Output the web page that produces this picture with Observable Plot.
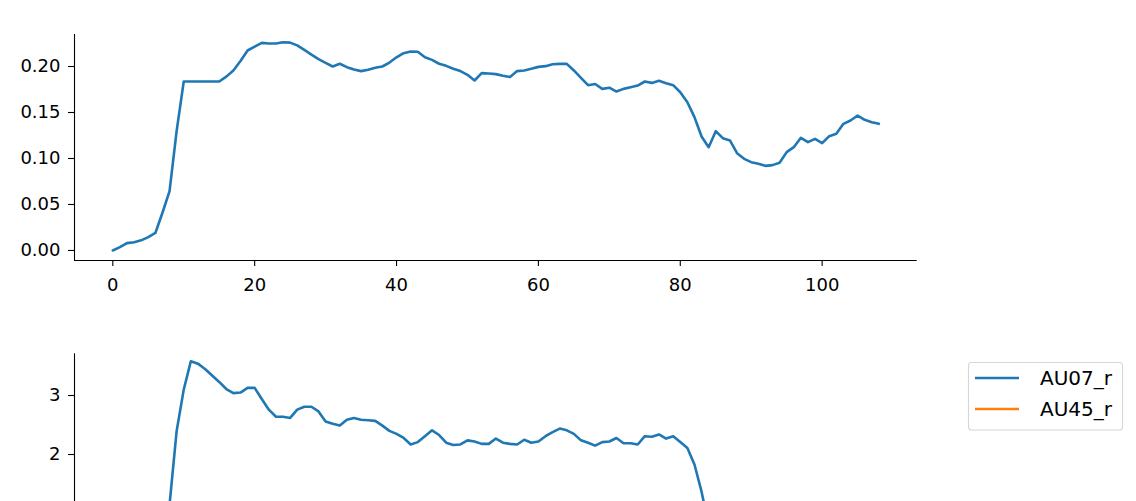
<!DOCTYPE html>
<html><head><meta charset="utf-8">
<script src="https://cdn.jsdelivr.net/npm/d3@7"></script>
<script src="https://cdn.jsdelivr.net/npm/@observablehq/plot@0.6"></script>
<style>
html,body{margin:0;padding:0;background:#fff;overflow:hidden;}
#fig{position:relative;width:1136px;height:501px;overflow:hidden;font-family:"DejaVu Sans",sans-serif;}
#fig svg{position:absolute;left:0;overflow:visible;max-width:none!important;}
</style></head><body><div id="fig"></div>
<script>
// ---- data ----
const seriesNames = ["AU07_r", "AU45_r"];
const seriesColors = ["#1f77b4", "#ff7f0e"];
const xTicks = [0, 20, 40, 60, 80, 100];
const topYTicks = [0, 0.05, 0.10, 0.15, 0.20];
const bottomYTicks = [2, 3];

const topFrames = d3.range(0, 109);
const topValues = [
  0.000, 0.0036, 0.008, 0.009, 0.011, 0.0145, 0.019, 0.041, 0.0645, 0.130,
  0.1837, 0.1837, 0.1837, 0.1837, 0.1837, 0.1837, 0.189, 0.1957, 0.206, 0.2174,
  0.2217, 0.2257, 0.225, 0.225, 0.2264, 0.226, 0.223, 0.218, 0.213, 0.208,
  0.204, 0.200, 0.203, 0.1993, 0.1967, 0.195, 0.1964, 0.1986, 0.200, 0.2043,
  0.210, 0.2145, 0.2163, 0.216, 0.210, 0.2072, 0.203, 0.2007, 0.1975, 0.195,
  0.191, 0.1848, 0.1928, 0.1924, 0.1917, 0.190, 0.1886, 0.195, 0.1957, 0.1975,
  0.1996, 0.2004, 0.2025, 0.2029, 0.2029, 0.1957, 0.1877, 0.1797, 0.181, 0.1757,
  0.177, 0.1728, 0.1757, 0.1775, 0.1793, 0.1837, 0.1822, 0.1844, 0.1819, 0.1797,
  0.172, 0.1612, 0.145, 0.1239, 0.1123, 0.1297, 0.1221, 0.1196, 0.1058, 0.0996,
  0.096, 0.0942, 0.092, 0.0928, 0.0953, 0.1069, 0.1123, 0.1225, 0.1178, 0.1214,
  0.1167, 0.1243, 0.1268, 0.1377, 0.1413, 0.1467, 0.142, 0.1395, 0.1377
];

// bottom panel: only the visible part (frames 7..84)
const bottomFrames = d3.range(7, 85);
const bottomAU07 = [
  0.5, 1.15, 2.4, 3.1, 3.58, 3.54, 3.45, 3.34, 3.23, 3.11,
  3.04, 3.05, 3.13, 3.13, 2.94, 2.76, 2.64, 2.64, 2.62, 2.76,
  2.81, 2.81, 2.73, 2.56, 2.52, 2.49, 2.59, 2.62, 2.59, 2.58,
  2.57, 2.49, 2.40, 2.35, 2.28, 2.17, 2.21, 2.31, 2.41, 2.33,
  2.20, 2.16, 2.17, 2.24, 2.22, 2.18, 2.18, 2.27, 2.20, 2.18,
  2.17, 2.25, 2.20, 2.22, 2.31, 2.38, 2.44, 2.41, 2.35, 2.24,
  2.20, 2.15, 2.21, 2.22, 2.28, 2.19, 2.19, 2.17, 2.31, 2.30,
  2.34, 2.27, 2.31, 2.21, 2.11, 1.83, 1.37, 0.8
];

// ---- layout ----
const W = 1136;
const xDomain = [-5.4, 113.4];
const topYDomain = [-0.0109, 0.2348];
const bottomYDomain = [1.2034, 3.707];
const baseStyle = {fontFamily: "DejaVu Sans", fontSize: "18px", color: "#000", background: "transparent", overflow: "visible"};

const topData = topFrames.map((f, i) => ({frame: f, value: topValues[i]}));
const bottomData = bottomFrames.map((f, i) => ({frame: f, value: bottomAU07[i]}));

const topPlot = Plot.plot({
  width: W, height: 300,
  marginLeft: 74, marginRight: 219.3, marginTop: 34, marginBottom: 40,
  style: baseStyle,
  x: {domain: xDomain},
  y: {domain: topYDomain},
  marks: [
    Plot.ruleX([xDomain[0]], {stroke: "#000", strokeWidth: 1.1}),
    Plot.ruleY([topYDomain[0]], {stroke: "#000", strokeWidth: 1.1}),
    Plot.axisX({ticks: xTicks, tickSize: 6, tickPadding: 12, label: null, strokeWidth: 1.1}),
    Plot.axisY({ticks: topYTicks, tickFormat: d3.format(".2f"), tickSize: 6, tickPadding: 8, label: null, strokeWidth: 1.1}),
    Plot.lineY(topData, {x: "frame", y: "value", stroke: seriesColors[0], strokeWidth: 2.6})
  ]
});
topPlot.style.top = "0px";

const bottomPlot = Plot.plot({
  width: W, height: 201,
  marginLeft: 74, marginRight: 219.3, marginTop: 53.3, marginBottom: 0,
  style: baseStyle,
  x: {domain: xDomain, axis: null},
  y: {domain: bottomYDomain},
  marks: [
    Plot.ruleX([xDomain[0]], {stroke: "#000", strokeWidth: 1.1}),
    Plot.axisY({ticks: bottomYTicks, tickFormat: d3.format("d"), tickSize: 6, tickPadding: 8, label: null, strokeWidth: 1.1}),
    Plot.lineY(bottomData, {x: "frame", y: "value", stroke: seriesColors[0], strokeWidth: 2.6, clip: true})
  ]
});
bottomPlot.style.top = "300px";

// legend (in bottom svg coordinates)
const svgB = d3.select(bottomPlot);
const lg = svgB.append("g").attr("text-anchor", "start");
lg.append("rect").attr("x", 968.5).attr("y", 62.5).attr("width", 154).attr("height", 67.5)
  .attr("rx", 3).attr("fill", "#fff").attr("stroke", "#d6d6d6").attr("stroke-width", 1.1);
seriesNames.forEach((name, i) => {
  const yy = 78 + i * 31;
  lg.append("line").attr("x1", 975).attr("x2", 1019).attr("y1", yy).attr("y2", yy)
    .attr("stroke", seriesColors[i]).attr("stroke-width", 2.6);
  lg.append("text").attr("x", 1040).attr("y", yy).attr("dy", "0.36em")
    .attr("text-anchor", "start")
    .attr("font-family", "DejaVu Sans").attr("font-size", 20).attr("fill", "#000").text(name);
});

const fig = document.getElementById("fig");
fig.appendChild(topPlot);
fig.appendChild(bottomPlot);
</script>
</body></html>
